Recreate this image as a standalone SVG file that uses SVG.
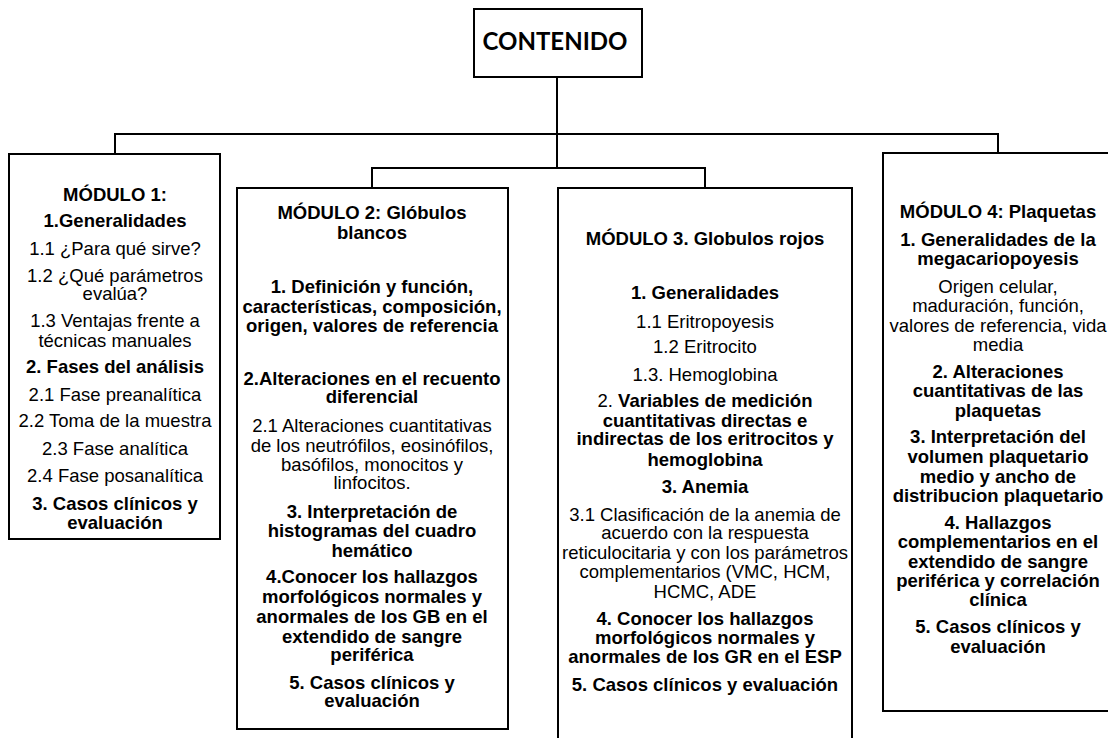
<svg xmlns="http://www.w3.org/2000/svg" width="1108" height="738" viewBox="0 0 1108 738">
<style>
.box{fill:#fff;stroke:#000;stroke-width:2}
.con{fill:none;stroke:#000;stroke-width:2}
text{font-family:"Liberation Sans",Arial,sans-serif;font-size:18.5px;fill:#000;text-anchor:middle}
.b{font-weight:bold}
.title{font-family:Lato,"Liberation Sans",sans-serif;font-weight:bold;font-size:24px}
</style>
<rect width="1108" height="738" fill="#fff"/>
<g id="connectors">
<path class="con" d="M557,77 V168 M372,188 V168 H705 V188"/>
<path class="con" d="M115,154 V134 H998 V153"/>
</g>
<g id="contenido">
<rect class="box" x="474" y="9" width="168" height="68"/>
<text class="title" x="555" y="50">CONTENIDO</text>
</g>
<g id="modulo1">
<rect class="box" x="9" y="154" width="211" height="385"/>
<text class="b" x="115" y="201">MÓDULO 1:</text>
<text class="b" x="115" y="227">1.Generalidades</text>
<text x="115" y="255">1.1 ¿Para qué sirve?</text>
<text x="115" y="282">1.2 ¿Qué parámetros</text>
<text x="115" y="300">evalúa?</text>
<text x="115" y="327">1.3 Ventajas frente a</text>
<text x="115" y="347">técnicas manuales</text>
<text class="b" x="115" y="373">2. Fases del análisis</text>
<text x="115" y="401">2.1 Fase preanalítica</text>
<text x="115" y="427">2.2 Toma de la muestra</text>
<text x="115" y="455">2.3 Fase analítica</text>
<text x="115" y="482">2.4 Fase posanalítica</text>
<text class="b" x="115" y="510">3. Casos clínicos y</text>
<text class="b" x="115" y="529">evaluación</text>
</g>
<g id="modulo2">
<rect class="box" x="237" y="188" width="271" height="541"/>
<text class="b" x="372" y="219">MÓDULO 2: Glóbulos</text>
<text class="b" x="372" y="239">blancos</text>
<text class="b" x="372" y="293">1. Definición y función,</text>
<text class="b" x="372" y="313">características, composición,</text>
<text class="b" x="372" y="332">origen, valores de referencia</text>
<text class="b" x="372" y="385">2.Alteraciones en el recuento</text>
<text class="b" x="372" y="403">diferencial</text>
<text x="372" y="432">2.1 Alteraciones cuantitativas</text>
<text x="372" y="452">de los neutrófilos, eosinófilos,</text>
<text x="372" y="471">basófilos, monocitos y</text>
<text x="372" y="489">linfocitos.</text>
<text class="b" x="372" y="518">3. Interpretación de</text>
<text class="b" x="372" y="537">histogramas del cuadro</text>
<text class="b" x="372" y="557">hemático</text>
<text class="b" x="372" y="583">4.Conocer los hallazgos</text>
<text class="b" x="372" y="603">morfológicos normales y</text>
<text class="b" x="372" y="623">anormales de los GB en el</text>
<text class="b" x="372" y="643">extendido de sangre</text>
<text class="b" x="372" y="661">periférica</text>
<text class="b" x="372" y="689">5. Casos clínicos y</text>
<text class="b" x="372" y="707">evaluación</text>
</g>
<g id="modulo3">
<rect class="box" x="558" y="188" width="294" height="560"/>
<text class="b" x="705" y="245">MÓDULO 3. Globulos rojos</text>
<text class="b" x="705" y="299">1. Generalidades</text>
<text x="705" y="328">1.1 Eritropoyesis</text>
<text x="705" y="353">1.2 Eritrocito</text>
<text x="705" y="381">1.3. Hemoglobina</text>
<text x="705" y="407">2. <tspan class="b">Variables de medición</tspan></text>
<text class="b" x="705" y="427">cuantitativas directas e</text>
<text class="b" x="705" y="445">indirectas de los eritrocitos y</text>
<text class="b" x="705" y="466">hemoglobina</text>
<text class="b" x="705" y="493">3. Anemia</text>
<text x="705" y="521">3.1 Clasificación de la anemia de</text>
<text x="705" y="539">acuerdo con la respuesta</text>
<text x="705" y="559">reticulocitaria y con los parámetros</text>
<text x="705" y="578">complementarios (VMC, HCM,</text>
<text x="705" y="598">HCMC, ADE</text>
<text class="b" x="705" y="625">4. Conocer los hallazgos</text>
<text class="b" x="705" y="644">morfológicos normales y</text>
<text class="b" x="705" y="663">anormales de los GR en el ESP</text>
<text class="b" x="705" y="691">5. Casos clínicos y evaluación</text>
</g>
<g id="modulo4">
<rect class="box" x="883" y="153" width="230" height="558"/>
<text class="b" x="998" y="218">MÓDULO 4: Plaquetas</text>
<text class="b" x="998" y="246">1. Generalidades de la</text>
<text class="b" x="998" y="265">megacariopoyesis</text>
<text x="998" y="293">Origen celular,</text>
<text x="998" y="312">maduración, función,</text>
<text x="998" y="332">valores de referencia, vida</text>
<text x="998" y="351">media</text>
<text class="b" x="998" y="378">2. Alteraciones</text>
<text class="b" x="998" y="397">cuantitativas de las</text>
<text class="b" x="998" y="417">plaquetas</text>
<text class="b" x="998" y="443">3. Interpretación del</text>
<text class="b" x="998" y="463">volumen plaquetario</text>
<text class="b" x="998" y="483">medio y ancho de</text>
<text class="b" x="998" y="502">distribucion plaquetario</text>
<text class="b" x="998" y="529">4. Hallazgos</text>
<text class="b" x="998" y="548">complementarios en el</text>
<text class="b" x="998" y="568">extendido de sangre</text>
<text class="b" x="998" y="587">periférica y correlación</text>
<text class="b" x="998" y="606">clínica</text>
<text class="b" x="998" y="633">5. Casos clínicos y</text>
<text class="b" x="998" y="653">evaluación</text>
</g>
</svg>
